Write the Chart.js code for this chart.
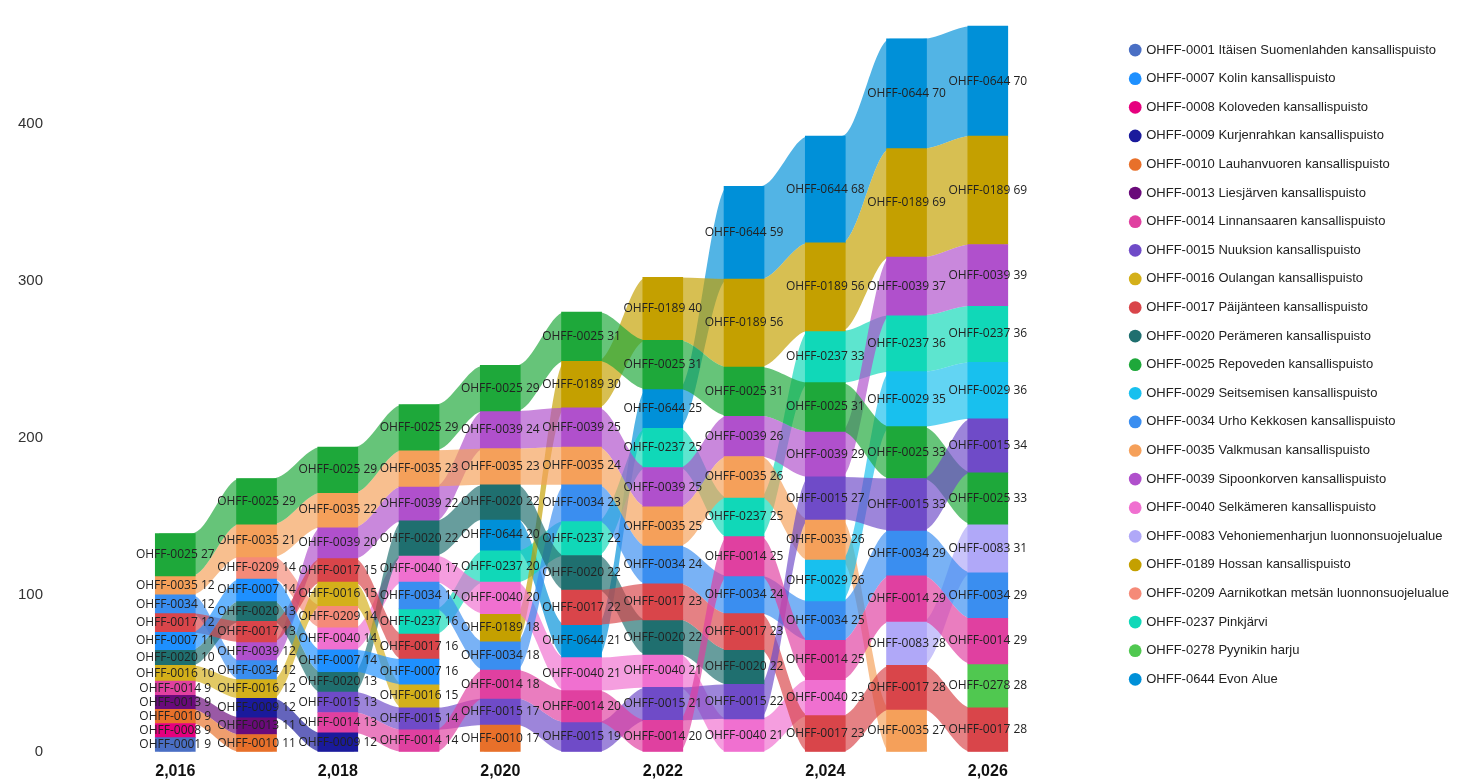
<!DOCTYPE html>
<html><head><meta charset="utf-8">
<script src="https://cdn.jsdelivr.net/npm/chart.js@4"></script>
<style>html,body{margin:0;background:#fff}#wrap{width:1459px;height:783px}</style>
</head><body><div id="wrap"><canvas id="c"></canvas></div>
<script>
const years = [2016, 2017, 2018, 2019, 2020, 2021, 2022, 2023, 2024, 2025, 2026];
const xTicks = [2016, 2018, 2020, 2022, 2024, 2026];
const yTicks = [0, 100, 200, 300, 400];
const codes = ['0001','0007','0008','0009','0010','0013','0014','0015','0016','0017','0020','0025','0029','0034','0035','0039','0040','0083','0189','0209','0237','0278','0644'];
const names = ['Itäisen Suomenlahden kansallispuisto','Kolin kansallispuisto','Koloveden kansallispuisto','Kurjenrahkan kansallispuisto','Lauhanvuoren kansallispuisto','Liesjärven kansallispuisto','Linnansaaren kansallispuisto','Nuuksion kansallispuisto','Oulangan kansallispuisto','Päijänteen kansallispuisto','Perämeren kansallispuisto','Repoveden kansallispuisto','Seitsemisen kansallispuisto','Urho Kekkosen kansallispuisto','Valkmusan kansallispuisto','Sipoonkorven kansallispuisto','Selkämeren kansallispuisto','Vehoniemenharjun luonnonsuojelualue','Hossan kansallispuisto','Aarnikotkan metsän luonnonsuojelualue','Pinkjärvi','Pyynikin harju','Evon Alue'];
const colors = ['#4a6fc4','#1e90ff','#e6007e','#1a1a9c','#e8702a','#6a0a7a','#e040a0','#6f4bc8','#d4b01a','#d9454a','#1f6f6f','#1ea83a','#18c0ee','#3a8ef0','#f5a05a','#b050cc','#f070d0','#b0a8f8','#c4a000','#f58a78','#10d8b8','#50c850','#0090d8'];

// each column, bottom to top: [code, value]
const c2016 = [['0001',9],['0008',9],['0010',9],['0013',9],['0014',9],['0016',10],['0020',10],['0007',11],['0017',12],['0034',12],['0035',12],['0025',27]];
const c2017 = [['0010',11],['0013',11],['0009',12],['0016',12],['0034',12],['0039',12],['0017',13],['0020',13],['0007',14],['0209',14],['0035',21],['0025',29]];
const c2018 = [['0009',12],['0014',13],['0015',13],['0020',13],['0007',14],['0040',14],['0209',14],['0016',15],['0017',15],['0039',20],['0035',22],['0025',29]];
const c2019 = [['0014',14],['0015',14],['0016',15],['0007',16],['0017',16],['0237',16],['0034',17],['0040',17],['0020',22],['0039',22],['0035',23],['0025',29]];
const c2020 = [['0010',17],['0015',17],['0014',18],['0034',18],['0189',18],['0040',20],['0237',20],['0644',20],['0020',22],['0035',23],['0039',24],['0025',29]];
const c2021 = [['0015',19],['0014',20],['0040',21],['0644',21],['0017',22],['0020',22],['0237',22],['0034',23],['0035',24],['0039',25],['0189',30],['0025',31]];
const c2022 = [['0014',20],['0015',21],['0040',21],['0020',22],['0017',23],['0034',24],['0035',25],['0039',25],['0237',25],['0644',25],['0025',31],['0189',40]];
const c2023 = [['0040',21],['0015',22],['0020',22],['0017',23],['0034',24],['0014',25],['0237',25],['0035',26],['0039',26],['0025',31],['0189',56],['0644',59]];
const c2024 = [['0017',23],['0040',23],['0014',25],['0034',25],['0029',26],['0035',26],['0015',27],['0039',29],['0025',31],['0237',33],['0189',56],['0644',68]];
const c2025 = [['0035',27],['0017',28],['0083',28],['0014',29],['0034',29],['0015',33],['0025',33],['0029',35],['0237',36],['0039',37],['0189',69],['0644',70]];
const c2026 = [['0017',28],['0278',28],['0014',29],['0034',29],['0083',31],['0025',33],['0015',34],['0029',36],['0237',36],['0039',39],['0189',69],['0644',70]];
const columns = [c2016, c2017, c2018, c2019, c2020, c2021, c2022, c2023, c2024, c2025, c2026];

// stack ranges per category per year
const ranges = codes.map(() => years.map(() => null));
columns.forEach((col, yi) => {
  let base = 0;
  col.forEach(([code, v]) => {
    ranges[codes.indexOf(code)][yi] = [base, base + v];
    base += v;
  });
});

function alpha(hex, a) {
  const n = parseInt(hex.slice(1), 16);
  return `rgba(${n >> 16},${(n >> 8) & 255},${n & 255},${a})`;
}

const half = 0.2;
const barSets = codes.map((code, i) => ({
  type: 'bar', label: `OHFF-${code} ${names[i]}`, order: 0, grouped: false,
  backgroundColor: colors[i], borderWidth: 0, barThickness: 40,
  pointStyle: 'circle',
  data: years.map((yr, yi) => ranges[i][yi] ? { x: yr, y: ranges[i][yi] } : null).filter(Boolean)
}));

const lineSets = [];
codes.forEach((code, i) => {
  const lo = [], hi = [];
  years.forEach((yr, yi) => {
    const r = ranges[i][yi];
    if (r) {
      lo.push({ x: yr - half, y: r[0] }, { x: yr + half, y: r[0] });
      hi.push({ x: yr - half, y: r[1] }, { x: yr + half, y: r[1] });
    } else {
      lo.push({ x: yr, y: null });
      hi.push({ x: yr, y: null });
    }
  });
  const common = { type: 'line', order: 1, borderWidth: 0, pointRadius: 0, spanGaps: false,
    cubicInterpolationMode: 'monotone', borderColor: 'transparent' };
  lineSets.push({ ...common, label: 'lo' + code, data: lo, fill: false });
  lineSets.push({ ...common, label: 'hi' + code, data: hi, fill: '-1', backgroundColor: alpha(colors[i], 0.68) });
});

const barLabels = {
  id: 'barLabels',
  afterDatasetsDraw(chart) {
    const ctx = chart.ctx;
    ctx.save();
    ctx.font = '12px "Segoe UI", "Open Sans", sans-serif';
    ctx.fillStyle = '#222';
    ctx.textAlign = 'center';
    ctx.textBaseline = 'middle';
    codes.forEach((code, i) => {
      const meta = chart.getDatasetMeta(i);
      meta.data.forEach((el, k) => {
        const v = barSets[i].data[k].y;
        ctx.fillText(`OHFF-${code} ${v[1] - v[0]}`, el.x, (el.y + el.base) / 2);
      });
    });
    ctx.restore();
  }
};

new Chart(document.getElementById('c'), {
  data: { datasets: [...barSets, ...lineSets] },
  plugins: [barLabels],
  options: {
    responsive: true, maintainAspectRatio: false, animation: false,
    layout: { padding: { top: 8, left: 4 } },
    scales: {
      x: { type: 'linear', min: 2015.72, max: 2026.49, grid: { display: false }, border: { display: false },
        afterBuildTicks: s => { s.ticks = xTicks.map(v => ({ value: v })); },
        ticks: { autoSkip: false, maxRotation: 0, padding: 2, color: '#111', font: { size: 16, weight: 'bold' } } },
      y: { min: 0, max: 464, grid: { display: false }, border: { display: false },
        afterBuildTicks: s => { s.ticks = yTicks.map(v => ({ value: v })); },
        ticks: { color: '#333', font: { size: 15 }, padding: 14 } }
    },
    plugins: {
      tooltip: { enabled: false },
      legend: {
        position: 'right', align: 'start',
        title: { display: true, text: ' ', font: { size: 10 }, padding: 4 },
        labels: {
          filter: item => item.datasetIndex < codes.length,
          usePointStyle: true, boxWidth: 9, boxHeight: 9, padding: 15.6,
          color: '#222', font: { size: 13 }
        }
      }
    }
  }
});
</script></body></html>
